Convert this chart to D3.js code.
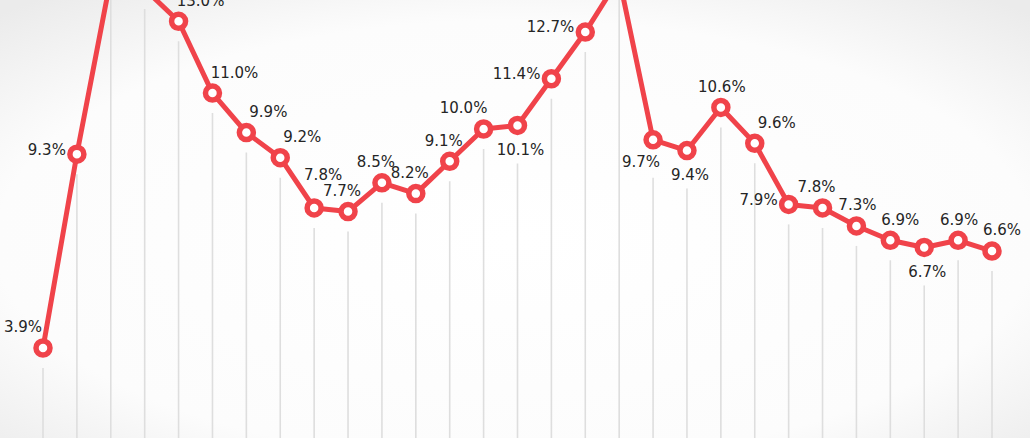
<!DOCTYPE html>
<html>
<head>
<meta charset="utf-8">
<script src="https://cdn.jsdelivr.net/npm/d3@7"></script>
<style>
  html, body { margin: 0; padding: 0; background: #fff; }
  svg { display: block; }
</style>
</head>
<body>
<svg id="chart" width="1030" height="438"></svg>
<script>
// Data: annual growth rate (%), 1990–2018
const years = d3.range(1990, 2019);
const values = [3.9, 9.3, 14.2, 13.9, 13.0, 11.0, 9.9, 9.2, 7.8, 7.7, 8.5, 8.2, 9.1, 10.0,
                10.1, 11.4, 12.7, 14.2, 9.7, 9.4, 10.6, 9.6, 7.9, 7.8, 7.3, 6.9, 6.7, 6.9, 6.6];
const labels = values.map(v => v.toFixed(1) + "%");
// label side relative to its point
const labelSide = ["NW", "W", "N", "NE", "NE", "NE", "NE", "NE", "NNE", "N", "N", "N", "N", "NW",
                   "S", "W", "W", "N", "SW", "S", "Nc", "NE", "W", "N", "Nc", "Nr", "S", "Nc", "Nr"];

const W = 1030, H = 438;
const svg = d3.select("#chart");

// background vignette
const defs = svg.append("defs");
const rg = defs.append("radialGradient").attr("id", "bg")
  .attr("cx", "50%").attr("cy", "55%").attr("r", "72%");
rg.append("stop").attr("offset", "0%").attr("stop-color", "#ffffff");
rg.append("stop").attr("offset", "70%").attr("stop-color", "#fcfcfc");
rg.append("stop").attr("offset", "100%").attr("stop-color", "#ebebeb");
svg.append("rect").attr("width", W).attr("height", H).attr("fill", "url(#bg)");

const x = d3.scalePoint().domain(years).range([43, 992]);
const y = d3.scaleLinear().domain([0, 14]).range([488, 488 - 14 * 35.9]);

const data = years.map((yr, i) => ({ yr, v: values[i], label: labels[i], side: labelSide[i] }));

// vertical guide lines
svg.append("g").selectAll("line").data(data).join("line")
  .attr("x1", d => x(d.yr)).attr("x2", d => x(d.yr))
  .attr("y1", d => y(d.v) + (d.side === "S" || d.side === "SW" ? 38 : 20))
  .attr("y2", H)
  .attr("stroke", "#dedede").attr("stroke-width", 1.6);

// line
const line = d3.line().x(d => x(d.yr)).y(d => y(d.v));
svg.append("path").datum(data)
  .attr("d", line)
  .attr("fill", "none")
  .attr("stroke", "#f0434a")
  .attr("stroke-width", 5)
  .attr("stroke-linejoin", "round");

// markers
svg.append("g").selectAll("circle").data(data).join("circle")
  .attr("cx", d => x(d.yr)).attr("cy", d => y(d.v))
  .attr("r", 7)
  .attr("fill", "#fff")
  .attr("stroke", "#f0434a")
  .attr("stroke-width", 5.5);

// labels
const off = {
  N:   { dx: -6, dy: -21, a: "middle" },
  Nc:  { dx: 1, dy: -21, a: "middle" },
  Nr:  { dx: 10, dy: -21, a: "middle" },
  NE:  { dx: 22, dy: -21, a: "middle" },
  NNE: { dx: 9, dy: -33, a: "middle" },
  NW:  { dx: -20, dy: -21, a: "middle" },
  W:   { dx: -11, dy: -5, a: "end" },
  S:   { dx: 3, dy: 24, a: "middle" },
  SW:  { dx: -12, dy: 22, a: "middle" }
};
svg.append("g").selectAll("text").data(data).join("text")
  .attr("x", d => x(d.yr) + off[d.side].dx)
  .attr("y", d => y(d.v) + off[d.side].dy)
  .attr("dy", "0.36em")
  .attr("text-anchor", d => off[d.side].a)
  .attr("font-family", "'DejaVu Sans', Verdana, sans-serif")
  .attr("font-size", 15)
  .attr("fill", "#252525")
  .text(d => d.label);
</script>
</body>
</html>
